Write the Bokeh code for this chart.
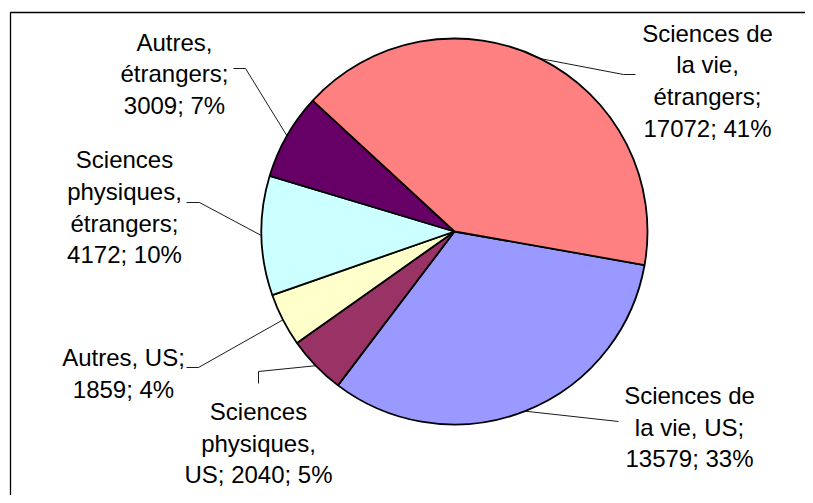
import math
from bokeh.plotting import figure
from bokeh.models import Range1d, ColumnDataSource
from bokeh.embed import file_html
from bokeh.resources import INLINE
from bokeh.core.properties import value

# ---- data ----
categories = ["Sciences de la vie, US", "Sciences physiques, US", "Autres, US",
              "Sciences physiques, étrangers", "Autres, étrangers",
              "Sciences de la vie, étrangers"]
values = [13579, 2040, 1859, 4172, 3009, 17072]
colors = ["#9999FF", "#993366", "#FFFFCC", "#CCFFFF", "#660066", "#FF8080"]
label_lines = [
    ["Sciences de", "la vie, US;", "{v}; {p}%"],
    ["Sciences", "physiques,", "US; {v}; {p}%"],
    ["Autres, US;", "{v}; {p}%"],
    ["Sciences", "physiques,", "étrangers;", "{v}; {p}%"],
    ["Autres,", "étrangers;", "{v}; {p}%"],
    ["Sciences de", "la vie,", "étrangers;", "{v}; {p}%"],
]
first_slice_angle = 100  # degrees, clockwise from 12 o'clock

# ---- layout (screen pixels) ----
W, H = 805, 495
def X(px): return px
def Y(py): return H - py

center_page = (454, 231)
R = 193
label_pos = [(689, 395), (258, 411), (123, 357.3), (124, 159.3), (174, 41.7), (707, 32.7)]
line_step = 31.7
leader_pts = [
    [(618, 421)],
    [(258, 371), (258, 383)],
    [(198, 367), (186, 367)],
    [(199, 202), (186, 202)],
    [(245, 68), (233, 68)],
    [(623, 74), (635, 74)],
]

cx, cy = X(center_page[0]), Y(center_page[1])
total = sum(values)
starts, ends, mids = [], [], []
cum = first_slice_angle
for v in values:
    span = v / total * 360.0
    s_cw, e_cw = cum, cum + span
    starts.append(math.radians(90 - s_cw))
    ends.append(math.radians(90 - e_cw))
    mids.append(math.radians(90 - (s_cw + e_cw) / 2))
    cum = e_cw

p = figure(width=W, height=H, x_range=Range1d(0, W), y_range=Range1d(0, H),
           output_backend="svg", toolbar_location=None, min_border=0,
           x_axis_type=None, y_axis_type=None)
p.grid.visible = False
p.outline_line_color = None
p.background_fill_color = "white"
p.border_fill_color = "white"

# chart border (left and top visible)
p.line(x=[X(10), X(10), W + 20], y=[-20, Y(12), Y(12)], line_color="black", line_width=1.3)

src = ColumnDataSource(dict(start=starts, end=ends, color=colors, name=categories))
p.wedge(x=cx, y=cy, radius=R, start_angle="start", end_angle="end", direction="clock",
        fill_color="color", line_color="black", line_width=1.8, source=src)

# leader lines
lx, ly = [], []
for m, pts in zip(mids, leader_pts):
    xs = [cx + R * math.cos(m)] + [X(a) for a, b in pts]
    ys = [cy + R * math.sin(m)] + [Y(b) for a, b in pts]
    lx.append(xs)
    ly.append(ys)
p.multi_line(xs=lx, ys=ly, line_color="black", line_width=0.9)

# labels
tx, ty, tt = [], [], []
for v, lines, (px_, py_) in zip(values, label_lines, label_pos):
    pct = round(v / total * 100)
    for i, ln in enumerate(lines):
        tx.append(X(px_))
        ty.append(Y(py_ + i * line_step))
        tt.append(ln.format(v=v, p=pct))
p.text(x=tx, y=ty, text=tt, text_font=value("Liberation Sans"), text_font_size="24px",
       text_align="center", text_baseline="alphabetic", text_color="black")

open("out.html", "w").write(file_html(p, INLINE))
